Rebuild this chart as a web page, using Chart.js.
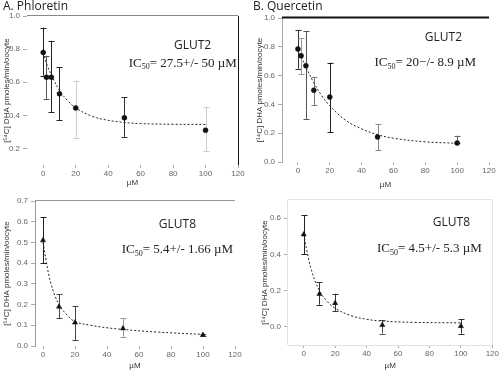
<!DOCTYPE html>
<html><head><meta charset="utf-8">
<script src="https://cdn.jsdelivr.net/npm/chart.js@4"></script>
<style>
body{margin:0;background:#fff;width:500px;height:371px;position:relative;overflow:hidden}
canvas{position:absolute}
</style></head><body>
<canvas id="cA" width="250" height="192" style="left:0;top:0;width:250px;height:192px"></canvas>
<canvas id="cB" width="250" height="192" style="left:250px;top:0;width:250px;height:192px"></canvas>
<canvas id="cC" width="250" height="186" style="left:0;top:185px;width:250px;height:186px"></canvas>
<canvas id="cD" width="250" height="186" style="left:250px;top:185px;width:250px;height:186px"></canvas>
<script>
// ---- data ----
const concGlut2 = [0, 2, 5, 10, 20, 50, 100];
const concGlut8 = [0, 10, 20, 50, 100];
const xTickValues = [0, 20, 40, 60, 80, 100, 120];

const phlGlut2 = [0.78, 0.63, 0.63, 0.53, 0.445, 0.385, 0.31];
const phlGlut2Hi = [0.93, 0.76, 0.85, 0.69, 0.61, 0.51, 0.45];
const phlGlut2Lo = [0.64, 0.50, 0.42, 0.37, 0.265, 0.27, 0.185];
const phlGlut2FitX = [0, 2.5, 5, 10, 15, 20, 30, 40, 50, 60, 80, 100];
const phlGlut2Fit = [0.78, 0.70, 0.645, 0.55, 0.49, 0.445, 0.395, 0.37, 0.357, 0.35, 0.346, 0.345];

const queGlut2 = [0.785, 0.738, 0.669, 0.498, 0.451, 0.174, 0.132];
const queGlut2Hi = [0.914, 0.861, 0.907, 0.59, 0.69, 0.264, 0.183];
const queGlut2Lo = [0.648, 0.61, 0.30, 0.394, 0.208, 0.083, 0.132];
const queGlut2FitX = [0, 2.5, 5, 10, 15, 20, 30, 40, 50, 60, 80, 100];
const queGlut2Fit = [0.78, 0.72, 0.66, 0.55, 0.46, 0.39, 0.29, 0.23, 0.19, 0.165, 0.14, 0.13];

const phlGlut8 = [0.51, 0.19, 0.113, 0.085, 0.053];
const phlGlut8Hi = [0.623, 0.25, 0.194, 0.134, 0.06];
const phlGlut8Lo = [0.40, 0.134, 0.029, 0.045, 0.048];
const phlGlut8FitX = [0, 2, 5, 10, 15, 20, 30, 40, 50, 70, 100];
const phlGlut8Fit = [0.50, 0.41, 0.30, 0.20, 0.15, 0.118, 0.10, 0.088, 0.08, 0.068, 0.056];

const queGlut8 = [0.51, 0.181, 0.131, 0.01, 0.004];
const queGlut8Hi = [0.616, 0.246, 0.183, 0.037, 0.041];
const queGlut8Lo = [0.40, 0.122, 0.088, -0.037, -0.037];
const queGlut8FitX = [0, 2, 5, 10, 15, 20, 30, 40, 50, 70, 100];
const queGlut8Fit = [0.51, 0.42, 0.31, 0.20, 0.14, 0.103, 0.062, 0.042, 0.032, 0.025, 0.022];

const yTicksA = [0.2, 0.4, 0.6, 0.8, 1.0];
const yTicksB = [0.0, 0.2, 0.4, 0.6, 0.8, 1.0];
const yTicksC = [0.0, 0.1, 0.2, 0.3, 0.4, 0.5, 0.6, 0.7];
const yTicksD = [0.0, 0.2, 0.4, 0.6];

const yTitle = '[¹⁴C] DHA pmoles/min/oocyte';
const xTitle = 'µM';

// ---- plugin ----
const panelPlugin = {
  id: 'panel',
  beforeDatasetsDraw(chart, args, o) {
    const ctx = chart.ctx, xs = chart.scales.x, ys = chart.scales.y;
    const xv = o.errX;
    ctx.save();
    ctx.lineWidth = 1;
    for (let i = 0; i < xv.length; i++) {
      const px = Math.round(xs.getPixelForValue(xv[i])) + 0.5;
      const hi = ys.getPixelForValue(o.errHi[i]);
      const lo = ys.getPixelForValue(o.errLo[i]);
      ctx.strokeStyle = o.errColors[i];
      ctx.beginPath();
      ctx.moveTo(px, hi); ctx.lineTo(px, lo);
      ctx.moveTo(px - 3, Math.round(hi) + 0.5); ctx.lineTo(px + 3, Math.round(hi) + 0.5);
      ctx.moveTo(px - 3, Math.round(lo) + 0.5); ctx.lineTo(px + 3, Math.round(lo) + 0.5);
      ctx.stroke();
    }
    ctx.restore();
  },
  afterDraw(chart, args, o) {
    const ctx = chart.ctx, a = chart.chartArea, xs = chart.scales.x, ys = chart.scales.y;
    ctx.save();
    const f = o.frame || {};
    const line = (c, w, x1, y1, x2, y2) => { ctx.strokeStyle = c; ctx.lineWidth = w; ctx.beginPath(); ctx.moveTo(x1, y1); ctx.lineTo(x2, y2); ctx.stroke(); };
    if (f.top) line(f.top, f.topW || 1, a.left, Math.round(a.top) - 0.5, a.right, Math.round(a.top) - 0.5);
    if (f.right) line(f.right, 1, Math.round(a.right) + 0.5, a.top, Math.round(a.right) + 0.5, a.bottom);
    if (f.bottom) line(f.bottom, 1, a.left, Math.round(a.bottom) + 0.5, a.right, Math.round(a.bottom) + 0.5);
    if (f.left) line(f.left, 1, Math.round(a.left) - 0.5, a.top, Math.round(a.left) - 0.5, a.bottom);
    if (o.title) {
      ctx.fillStyle = '#222';
      ctx.font = '12px "Open Sans", sans-serif';
      ctx.textBaseline = 'middle'; ctx.textAlign = 'left';
      ctx.fillText(o.title, 3, 7);
    }
    // GLUT label
    ctx.fillStyle = '#222';
    ctx.textBaseline = 'middle'; ctx.textAlign = 'center';
    ctx.font = '12px "Open Sans", sans-serif';
    ctx.fillText(o.glut.text, xs.getPixelForValue(o.glut.x), ys.getPixelForValue(o.glut.y));
    // IC50 label with subscript
    const big = '13px "Liberation Serif", serif', small = '8px "Liberation Serif", serif';
    ctx.font = big; const w1 = ctx.measureText('IC').width; const w3 = ctx.measureText(o.ic.rest).width;
    ctx.font = small; const w2 = ctx.measureText('50').width;
    let x = xs.getPixelForValue(o.ic.x) - (w1 + w2 + w3) / 2;
    const y = ys.getPixelForValue(o.ic.y);
    ctx.textAlign = 'left';
    ctx.font = big; ctx.fillText('IC', x, y); x += w1;
    ctx.font = small; ctx.fillText('50', x, y + 4); x += w2;
    ctx.font = big; ctx.fillText(o.ic.rest, x, y);
    ctx.restore();
  }
};
Chart.register(panelPlugin);

const tickFont = { size: 8, family: '"Liberation Sans", sans-serif' };
const titleFont = { size: 8, family: '"Liberation Sans", sans-serif' };

function makeChart(id, cfg) {
  const el = document.getElementById(id);
  const H = el.height, W = el.width;
  return new Chart(el, {
    type: 'scatter',
    data: {
      datasets: [
        {
          data: cfg.x.map((v, i) => ({ x: v, y: cfg.y[i] })),
          pointStyle: cfg.marker, pointRadius: cfg.marker === 'triangle' ? 3 : 2.5,
          backgroundColor: '#111', borderColor: '#111', borderWidth: 0.5, showLine: false
        },
        {
          data: cfg.fitX.map((v, i) => ({ x: v, y: cfg.fit[i] })),
          showLine: true, pointRadius: 0, borderColor: '#222', borderWidth: 1,
          borderDash: [2, 2], tension: 0.4, fill: false
        }
      ]
    },
    options: {
      responsive: false, animation: false, events: [],
      layout: { padding: { top: cfg.top, right: W - cfg.right, left: 0, bottom: 0 } },
      plugins: {
        legend: { display: false }, tooltip: { enabled: false },
        panel: {
          errX: cfg.x, errHi: cfg.hi, errLo: cfg.lo, errColors: cfg.errColors,
          frame: cfg.frame, title: cfg.title, glut: cfg.glut, ic: cfg.ic
        }
      },
      scales: {
        x: {
          type: 'linear', min: cfg.xmin, max: 120,
          afterBuildTicks(s) { s.ticks = xTickValues.map(v => ({ value: v })); },
          afterFit(s) { s.height = H - cfg.bottom; },
          ticks: { maxRotation: 0, autoSkip: false, font: tickFont, color: '#666', padding: 1 },
          grid: { drawOnChartArea: false, tickLength: 3, color: '#aaa' },
          border: { display: !!cfg.xBorder, color: cfg.xBorder || '#aaa' },
          title: { display: true, text: xTitle, font: titleFont, color: '#333', padding: { top: 0, bottom: cfg.xtPad } }
        },
        y: {
          min: cfg.ymin, max: cfg.ymax,
          afterBuildTicks(s) { s.ticks = cfg.yticks.map(v => ({ value: v })); },
          afterFit(s) { s.width = cfg.left; },
          ticks: { callback: v => v.toFixed(1), font: tickFont, color: '#666', padding: 3, autoSkip: false },
          grid: { drawOnChartArea: false, tickLength: 4, color: '#aaa' },
          border: { display: !!cfg.yBorder, color: cfg.yBorder || '#aaa' },
          title: { display: true, text: yTitle, font: titleFont, color: '#333', padding: { top: cfg.ytPad, bottom: 0 } }
        }
      }
    }
  });
}

makeChart('cA', {
  x: concGlut2, y: phlGlut2, hi: phlGlut2Hi, lo: phlGlut2Lo, fitX: phlGlut2FitX, fit: phlGlut2Fit,
  errColors: ['#222', '#555', '#222', '#222', '#ccc', '#333', '#ccc'], marker: 'circle',
  xmin: -10, ymin: 0.1, ymax: 1.0, yticks: yTicksA,
  left: 27, right: 238, top: 16, bottom: 165, xtPad: 4, ytPad: 2,
  frame: { top: '#888', right: '#111' }, title: 'A. Phloretin',
  glut: { text: 'GLUT2', x: 92, y: 0.824 }, ic: { x: 86, y: 0.715, rest: '= 27.5+/- 50 µM' }
});
makeChart('cB', {
  x: concGlut2, y: queGlut2, hi: queGlut2Hi, lo: queGlut2Lo, fitX: queGlut2FitX, fit: queGlut2Fit,
  errColors: ['#333', '#999', '#555', '#777', '#222', '#888', '#666'], marker: 'circle',
  xmin: -10, ymin: 0, ymax: 1.0, yticks: yTicksB, yBorder: '#aaa',
  left: 32, right: 239, top: 18, bottom: 162, xtPad: 2, ytPad: 5,
  frame: { top: '#111', topW: 2 }, title: 'B. Quercetin',
  glut: { text: 'GLUT2', x: 91.4, y: 0.863 }, ic: { x: 80, y: 0.69, rest: '= 20−/- 8.9 µM' }
});
makeChart('cC', {
  x: concGlut8, y: phlGlut8, hi: phlGlut8Hi, lo: phlGlut8Lo, fitX: phlGlut8FitX, fit: phlGlut8Fit,
  errColors: ['#222', '#444', '#444', '#999', '#777'], marker: 'triangle',
  xmin: -5, ymin: 0, ymax: 0.7, yticks: yTicksC, yBorder: '#999',
  left: 35, right: 235, top: 16, bottom: 161, xtPad: 0, ytPad: 2,
  frame: { top: '#999' }, title: '',
  glut: { text: 'GLUT8', x: 84, y: 0.584 }, ic: { x: 84, y: 0.464, rest: '= 5.4+/- 1.66 µM' }
});
makeChart('cD', {
  x: concGlut8, y: queGlut8, hi: queGlut8Hi, lo: queGlut8Lo, fitX: queGlut8FitX, fit: queGlut8Fit,
  errColors: ['#222', '#333', '#333', '#555', '#333'], marker: 'triangle',
  xmin: -10, ymin: -0.1, ymax: 0.7, yticks: yTicksD,
  left: 38, right: 247, top: 15, bottom: 160, xtPad: 0, ytPad: 10,
  frame: { top: '#e2e2e2', right: '#e2e2e2', bottom: '#e2e2e2', left: '#e2e2e2' }, title: '',
  glut: { text: 'GLUT8', x: 94, y: 0.575 }, ic: { x: 80, y: 0.43, rest: '= 4.5+/- 5.3 µM' }
});
</script>
</body></html>
